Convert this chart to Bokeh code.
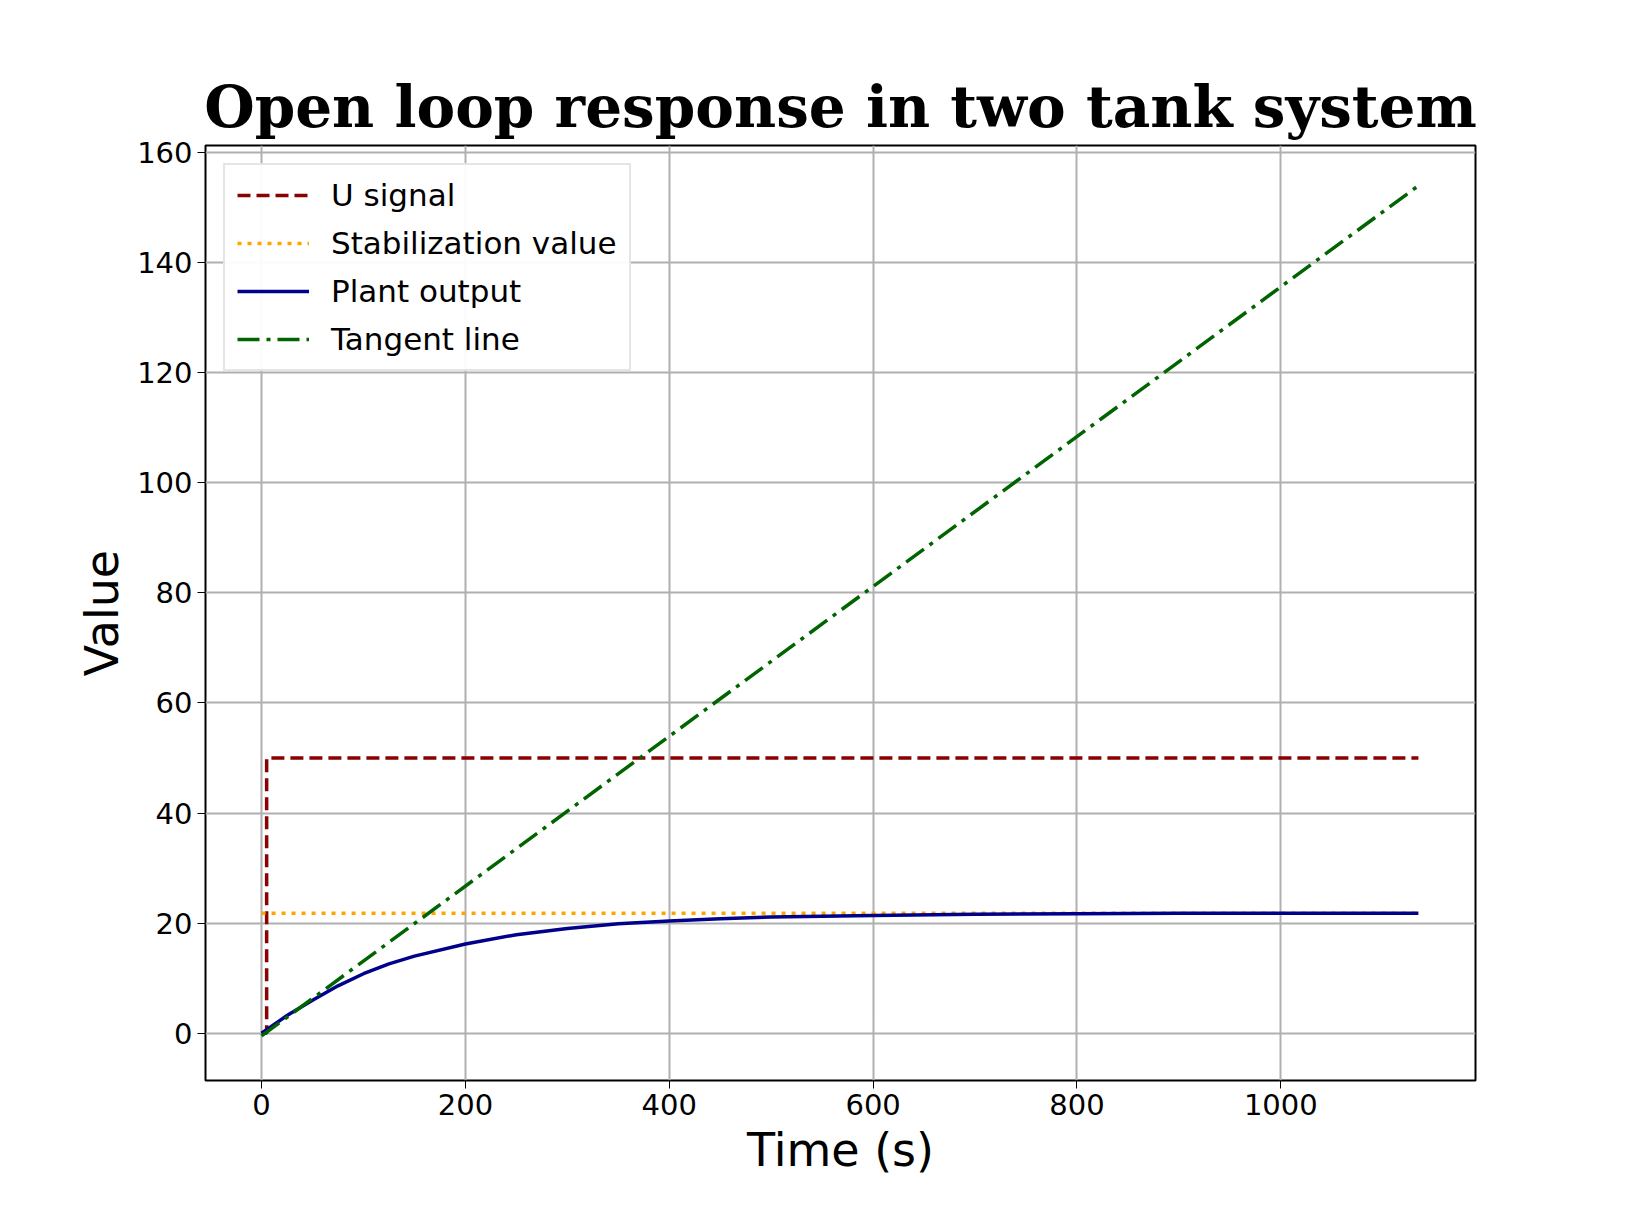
from bokeh.plotting import figure
from bokeh.models import Range1d, Legend, LegendItem
from bokeh.embed import file_html
from bokeh.resources import INLINE

# U signal (step)
u_time = [0, 5, 5, 1135]
u_value = [0, 0, 50, 50]

# stabilization value
stab_time = [0, 1135]
stab_value = [21.8, 21.8]

# plant output
plant_time = [0, 25, 50, 75, 100, 125, 150, 200, 250, 300, 350, 400, 450, 500, 600, 700, 800, 900, 1000, 1135]
plant_value = [0, 3.2, 6.0, 8.6, 10.8, 12.6, 14.0, 16.2, 17.9, 19.0, 19.9, 20.4, 20.8, 21.1, 21.4, 21.6, 21.7, 21.8, 21.8, 21.8]

# tangent line
tan_time = [0, 1135]
tan_value = [-0.5, 154]

p = figure(width=1620, height=1200, output_backend="svg", toolbar_location=None,
           x_range=Range1d(-55, 1191), y_range=Range1d(-8.6, 161.3),
           min_border_left=205, min_border_right=145, min_border_top=145, min_border_bottom=120)
p.title.text = "Open loop response in two tank system"
p.title.text_font = "DejaVu Serif"
p.title.text_font_style = "bold"
p.title.text_font_size = "58px"
p.title.text_color = "black"
p.title.align = "center"

p.xaxis.axis_label = "Time (s)"
p.yaxis.axis_label = "Value"
for ax in (p.xaxis, p.yaxis):
    ax.axis_label_text_font = "DejaVu Sans"
    ax.axis_label_text_font_style = "normal"
    ax.axis_label_text_font_size = "46px"
    ax.axis_label_text_color = "black"
    ax.major_label_text_font = "DejaVu Sans"
    ax.major_label_text_font_size = "29px"
    ax.major_label_text_color = "black"
    ax.minor_tick_line_color = None
    ax.major_tick_out = 8
    ax.major_tick_in = 0
    ax.major_tick_line_color = "black"
    ax.axis_line_color = None
p.xaxis.ticker = [0, 200, 400, 600, 800, 1000]
p.yaxis.ticker = [0, 20, 40, 60, 80, 100, 120, 140, 160]
p.outline_line_color = "black"
p.outline_line_width = 2
p.grid.grid_line_color = "#b0b0b0"
p.grid.grid_line_width = 2
p.grid.grid_line_alpha = 1.0

r1 = p.line(u_time, u_value, color="darkred", line_width=3.5, line_dash="13 6")
r2 = p.line(stab_time, stab_value, color="orange", line_width=3.5, line_dash="4 6")
r3 = p.line(plant_time, plant_value, color="darkblue", line_width=3.5)
r4 = p.line(tan_time, tan_value, color="darkgreen", line_width=3.5, line_dash="22 7 4 7")

legend = Legend(items=[LegendItem(label="U signal", renderers=[r1]),
                       LegendItem(label="Stabilization value", renderers=[r2]),
                       LegendItem(label="Plant output", renderers=[r3]),
                       LegendItem(label="Tangent line", renderers=[r4])],
                location="top_left")
legend.label_text_font = "DejaVu Sans"
legend.label_text_font_size = "31px"
legend.label_text_color = "black"
legend.label_standoff = 22
legend.glyph_width = 72
legend.spacing = 12
legend.border_line_color = "#cccccc"
legend.border_line_width = 2
legend.margin = 18
legend.padding = 12
p.add_layout(legend)

open("out.html", "w").write(file_html(p, INLINE))
